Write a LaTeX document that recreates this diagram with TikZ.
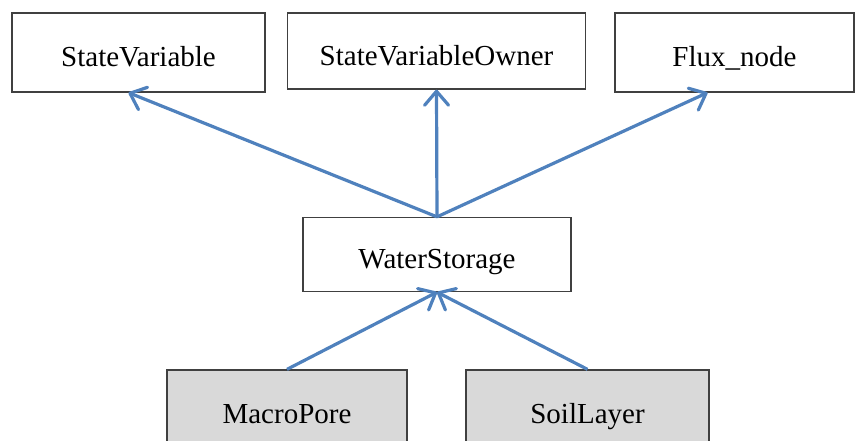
\documentclass[tikz,border=0pt]{standalone}
\usepackage{fontspec}
\setmainfont{Liberation Serif}
\usetikzlibrary{arrows.meta}
\definecolor{arrowblue}{HTML}{4F81BD}
\definecolor{boxgray}{HTML}{D9D9D9}
\definecolor{boxline}{HTML}{404040}
\begin{document}
\begin{tikzpicture}[x=1pt,y=-1pt,
  box/.style={draw=boxline,line width=1.3pt,fill=white,inner sep=0pt,
    text height=29pt,text depth=0pt,
    font=\fontsize{29}{35}\selectfont},
  graybox/.style={box,fill=boxgray},
  inherit/.style={draw=arrowblue,line width=3.2pt,
    -{Straight Barb[length=14pt,width=24pt,line cap=round,line join=round]}}]
\useasboundingbox (0,0) rectangle (855,441);
\node[box,minimum width=253pt,minimum height=79pt] (SV) at (138.5,52.5) {StateVariable};
\node[box,minimum width=298pt,minimum height=76pt] (SVO) at (436.5,51) {StateVariableOwner};
\node[box,minimum width=239pt,minimum height=79pt] (FN) at (734.5,52.5) {Flux\_node};
\node[box,minimum width=268pt,minimum height=74pt] (WS) at (437,254.5) {WaterStorage};
\node[graybox,minimum width=240pt,minimum height=77pt] (MP) at (287,408.5) {MacroPore};
\node[graybox,minimum width=243pt,minimum height=77pt] (SL) at (587.5,408.5) {SoilLayer};
\draw[inherit] (WS.north) -- ([xshift=-10pt]SV.south);
\draw[inherit] (WS.north) -- (SVO.south);
\draw[inherit] (WS.north) -- ([xshift=-27pt]FN.south);
\draw[inherit] (MP.north) -- (WS.south);
\draw[inherit] (SL.north) -- (WS.south);
\end{tikzpicture}
\end{document}
